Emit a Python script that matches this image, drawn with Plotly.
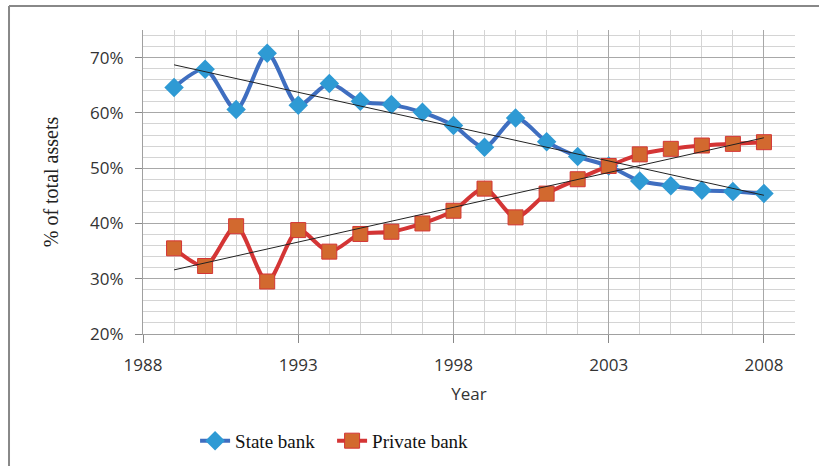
import plotly.graph_objects as go

# Years and bank shares of total assets
years = list(range(1989, 2009))
state_bank = [0.646, 0.679, 0.606, 0.708, 0.614, 0.653, 0.621, 0.615, 0.601, 0.577,
              0.538, 0.591, 0.548, 0.521, 0.504, 0.477, 0.468, 0.460, 0.458, 0.454]
private_bank = [0.355, 0.323, 0.395, 0.295, 0.388, 0.349, 0.381, 0.385, 0.400, 0.423,
                0.463, 0.411, 0.454, 0.480, 0.504, 0.525, 0.535, 0.541, 0.544, 0.547]

# Linear trendline end points (as drawn in the reference)
trend_years = [1989, 2008]
state_trend = [0.687, 0.451]
private_trend = [0.316, 0.555]

x_ticks = [1988, 1993, 1998, 2003, 2008]
y_ticks = [0.2, 0.3, 0.4, 0.5, 0.6, 0.7]

fig = go.Figure()

fig.add_trace(go.Scatter(
    x=years, y=state_bank,
    name="State bank", mode="lines+markers",
    line=dict(color="#3F6EC0", width=4, shape="spline", smoothing=0.8),
    marker=dict(symbol="diamond", size=15, color="#2E9AD4",
                line=dict(width=0)),
))
fig.add_trace(go.Scatter(
    x=years, y=private_bank,
    name="Private bank", mode="lines+markers",
    line=dict(color="#D43535", width=4, shape="spline", smoothing=0.8),
    marker=dict(symbol="square", size=15, color="#D2692F",
                line=dict(color="#D43535", width=1)),
))

# Trendlines
for ty in (state_trend, private_trend):
    fig.add_trace(go.Scatter(
        x=trend_years, y=ty,
        mode="lines", showlegend=False, hoverinfo="skip",
        line=dict(color="#222222", width=1),
    ))

fig.update_layout(
    width=819, height=466,
    margin=dict(l=143, r=24, t=30, b=132, autoexpand=False),
    paper_bgcolor="white",
    plot_bgcolor="white",
    font=dict(family="Open Sans, sans-serif", size=15, color="#333333"),
    showlegend=True,
    legend=dict(
        orientation="h", x=0.29, xanchor="center",
        yref="container", y=0.054, yanchor="middle",
        font=dict(family="Liberation Serif, serif", size=19, color="#111111"),
        entrywidth=92,
    ),
    shapes=[
        # outer chart border (left and top edges visible)
        dict(type="line", xref="paper", yref="paper", x0=-0.2055, x1=-0.2055,
             y0=-0.5, y1=1.079, line=dict(color="#888888", width=2)),
        dict(type="line", xref="paper", yref="paper", x0=-0.2055, x1=1.1,
             y0=1.079, y1=1.079, line=dict(color="#888888", width=2)),
    ],
)

fig.update_xaxes(
    range=[1988, 2009],
    tickvals=x_ticks,
    ticks="outside", ticklen=8, tickcolor="#888888",
    ticklabelstandoff=8,
    showgrid=True, gridcolor="#A8A8A8", gridwidth=1,
    minor=dict(dtick=1, tick0=1988, showgrid=True, gridcolor="#D4D4D4",
               gridwidth=1),
    showline=True, linecolor="#A0A0A0", linewidth=1,
    zeroline=False,
    title=dict(text="Year", font=dict(size=17, color="#333333"), standoff=12),
    tickfont=dict(size=17),
)
fig.update_yaxes(
    range=[0.2, 0.75],
    tickvals=y_ticks, tickformat=".0%",
    ticks="outside", ticklen=7, tickcolor="#888888",
    ticklabelstandoff=8,
    showgrid=True, gridcolor="#A8A8A8", gridwidth=1,
    minor=dict(dtick=0.02, tick0=0.2, showgrid=True, gridcolor="#D4D4D4",
               gridwidth=1),
    showline=True, linecolor="#A0A0A0", linewidth=1,
    zeroline=False,
    title=dict(text="% of total assets",
               font=dict(family="Liberation Serif, serif", size=20, color="#222222"),
               standoff=26),
    tickfont=dict(size=17),
)

fig.write_html("out.html", config={"displayModeBar": False},
               post_script="document.body.style.margin='0';")
